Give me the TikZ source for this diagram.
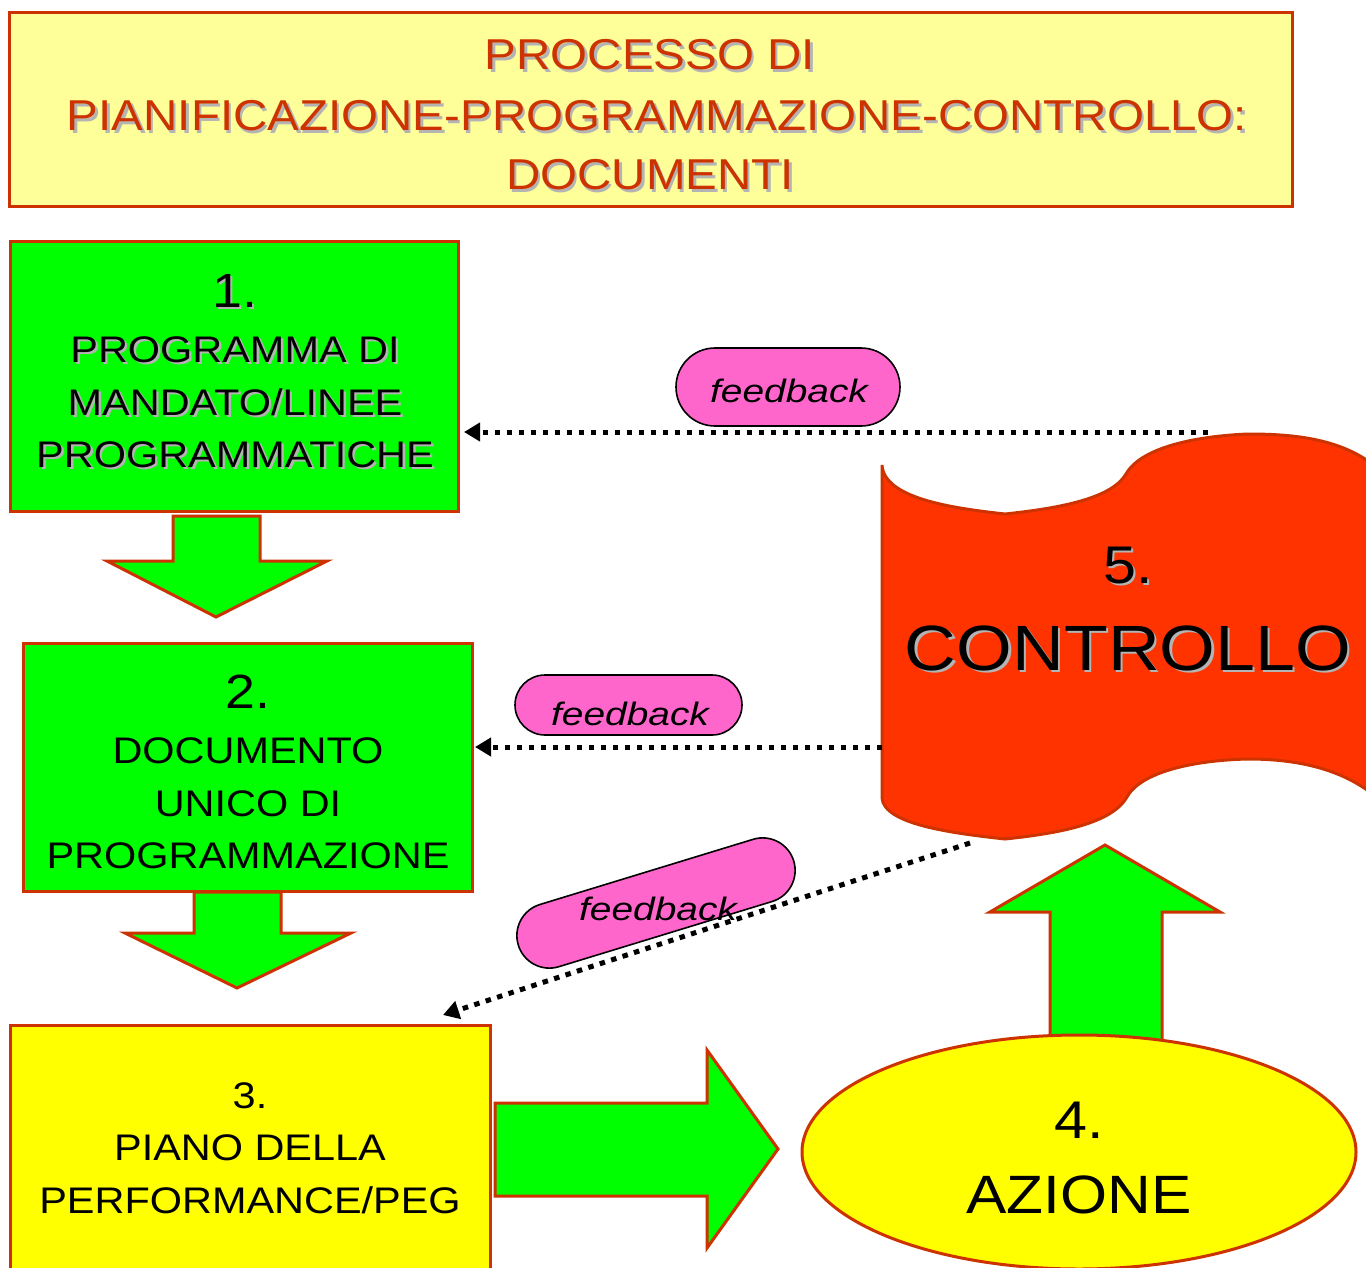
\documentclass[tikz,border=0pt]{standalone}
\usepackage{fontspec}
\setmainfont{Liberation Sans}
\newfontfamily\fT[FakeStretch=1.1]{Liberation Sans}
\newfontfamily\fB[FakeStretch=1.12]{Liberation Sans}
\newfontfamily\fF[FakeStretch=1.2]{Liberation Sans}
\usetikzlibrary{shapes.misc,shapes.geometric,arrows.meta}
\definecolor{bord}{HTML}{CC3300}
\definecolor{titlef}{HTML}{FFFF99}
\definecolor{grn}{HTML}{00FF00}
\definecolor{yel}{HTML}{FFFF00}
\definecolor{ctrlf}{HTML}{FF3300}
\definecolor{pinkf}{HTML}{FF66CC}
\definecolor{shgray}{HTML}{B4B4B4}
\newcommand\shd[1]{\rlap{\kern1.2pt\raisebox{-1.2pt}{\textcolor{shgray}{#1}}}#1}
\begin{document}
\begin{tikzpicture}[x=0.5pt,y=-0.5pt,
  box/.style={draw=bord, line width=1.5pt, inner sep=0pt, outer sep=0pt},
  txt/.style={inner sep=0pt, outer sep=0pt, anchor=base},
  bodyt/.style={txt, font=\fB\fontsize{18.5pt}{22pt}\selectfont},
  numt/.style={txt, font=\fB\fontsize{24pt}{28pt}\selectfont},
  fbt/.style={txt, font=\fF\itshape\fontsize{16.2pt}{19pt}\selectfont},
  pill/.style={rounded rectangle, draw=black, line width=0.8pt, fill=pinkf, inner sep=0pt, outer sep=0pt},
  fb/.style={line width=2.5pt, dash pattern=on 2.75pt off 3.25pt, -{Triangle[length=8pt,width=9pt]}},
  blk/.style={draw=bord, line width=1.5pt, fill=grn, line join=miter}]
\useasboundingbox (0,0) rectangle (1366,1268);
\fill[white] (0,0) rectangle (1366,1268);
\clip (0,0) rectangle (1366,1268);

% title
\node[box, fill=titlef, minimum width=641.5pt, minimum height=96.5pt] (title) at (650.5,109.5) {};
\node[txt, text=bord, font=\fT\fontsize{21.6pt}{26pt}\selectfont] (tta) at (650,70) {\shd{PROCESSO DI}};
\node[txt, text=bord, font=\fT\fontsize{21.6pt}{26pt}\selectfont] (ttb) at (657,131) {\shd{PIANIFICAZIONE-PROGRAMMAZIONE-CONTROLLO:}};
\node[txt, text=bord, font=\fT\fontsize{21.6pt}{26pt}\selectfont] (ttc) at (650,190) {\shd{DOCUMENTI}};

% boxes
\node[box, fill=grn, minimum width=224pt, minimum height=135pt] (box1) at (234,376) {};
\node[box, fill=grn, minimum width=224.5pt, minimum height=124pt] (box2) at (247.5,767) {};
\node[box, fill=yel, minimum width=240pt, minimum height=132.5pt] (box3) at (250,1157.5) {};

% block arrows
\draw[blk] (173,516) -- (260,516) -- (260,561) -- (327,561) -- (216,617) -- (107,561) -- (173,561) -- cycle;
\draw[blk] (194,892) -- (281,892) -- (281,933) -- (351,933) -- (237,988) -- (125,933) -- (194,933) -- cycle;
\draw[blk] (495,1103) -- (707,1103) -- (707,1050) -- (778,1149) -- (707,1248) -- (707,1196) -- (495,1196) -- cycle;
\draw[blk] (1050,1050) -- (1050,912) -- (990,912) -- (1105,845) -- (1220,912) -- (1162,912) -- (1162,1050) -- cycle;

% action ellipse
\node[ellipse, draw=bord, line width=1.5pt, fill=yel, minimum width=277pt, minimum height=117pt, inner sep=0pt] (act) at (1079,1152) {};

% controllo banner
\draw[draw=bord, line width=1.5pt, fill=ctrlf]
  (882,465) .. controls (884,498) and (950,508) .. (1005,514)
  .. controls (1062,508) and (1112,498) .. (1126,474)
  .. controls (1142,446) and (1200,436) .. (1248,434)
  .. controls (1300,434) and (1350,440) .. (1385,475)
  -- (1385,805)
  .. controls (1350,770) and (1300,759) .. (1248,759)
  .. controls (1200,760) and (1142,770) .. (1127,797)
  .. controls (1112,823) and (1062,833) .. (1005,839)
  .. controls (950,833) and (884,824) .. (882,798) -- cycle;
\coordinate (ctrlw) at (882,747);
\coordinate (ctrlb) at (970,843);

% texts
\node[numt] (n1) at (235,307) {\shd{1.}};
\node[bodyt] (t1a) at (235,362) {\shd{PROGRAMMA DI}};
\node[bodyt] (t1b) at (235,415) {\shd{MANDATO/LINEE}};
\node[bodyt] (t1c) at (235,467) {\shd{PROGRAMMATICHE}};

\node[numt] (n2) at (248,708) {2.};
\node[bodyt] (t2a) at (248,763) {DOCUMENTO};
\node[bodyt] (t2b) at (248,816) {UNICO DI};
\node[bodyt] (t2c) at (248,868) {PROGRAMMAZIONE};

\node[bodyt] (n3) at (250,1108) {3.};
\node[bodyt] (t3a) at (250,1160) {PIANO DELLA};
\node[bodyt] (t3b) at (250,1213) {PERFORMANCE/PEG};

\node[txt, font=\fB\fontsize{26.5pt}{30pt}\selectfont] (n4) at (1079,1138) {4.};
\node[txt, font=\fB\fontsize{27pt}{30pt}\selectfont] (t4) at (1079,1213) {AZIONE};

\node[txt, font=\fB\fontsize{26.5pt}{30pt}\selectfont] (n5) at (1128,583) {\shd{5.}};
\node[txt, font=\fB\fontsize{32pt}{36pt}\selectfont] (t5) at (1128,670) {\shd{CONTROLLO}};

% feedback pills
\node[pill, minimum width=112pt, minimum height=39pt] (p1) at (788,387) {};
\node[fbt] (fb1) at (789,402) {feedback};
\node[pill, minimum width=113.5pt, minimum height=30pt] (p2) at (628.5,705) {};
\node[fbt] (fb2) at (630,725) {feedback};
\node[pill, minimum width=144pt, minimum height=32.5pt, rotate=17] (p3) at (656,903) {};
\node[fbt] (fb3) at (658,920) {feedback};

% feedback connectors
\coordinate (f1s) at (1208,432);
\draw[fb, shorten >=3pt] (f1s) -- (f1s -| box1.east);
\draw[fb, shorten >=1.5pt] (ctrlw) -- (ctrlw -| box2.east);
\coordinate (f3e) at (443,1015);
\draw[fb] (ctrlb) -- (f3e);
\end{tikzpicture}
\end{document}
